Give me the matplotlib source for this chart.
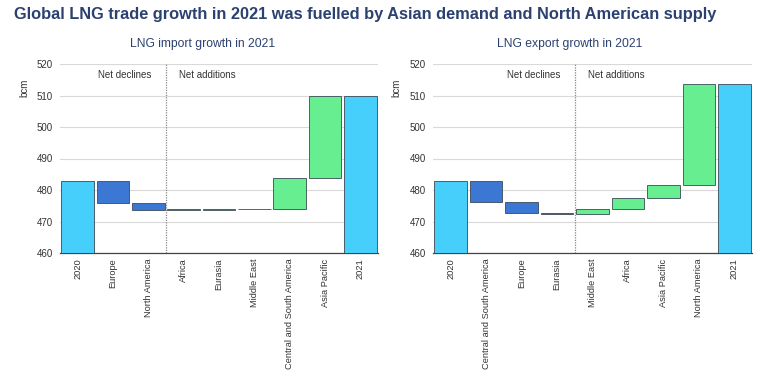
import matplotlib
matplotlib.use("Agg")
import matplotlib.pyplot as plt
import numpy as np

plt.rcParams["font.family"] = ["Liberation Sans", "DejaVu Sans"]

# import side
imp_cats = ["2020", "Europe", "North America", "Africa", "Eurasia", "Middle East",
            "Central and South America", "Asia Pacific", "2021"]
imp_start = 482.8
imp_deltas = [-6.9, -2.2, 0.1, 0.1, 0.2, 9.7, 26.1]
imp_end = 510.0

# export side
exp_cats = ["2020", "Central and South America", "Europe", "Eurasia", "Middle East",
            "Africa", "Asia Pacific", "North America", "2021"]
exp_start = 483.0
exp_deltas = [-6.7, -3.6, -0.2, 1.6, 3.4, 4.0, 32.2]
exp_end = 513.8

C_TOTAL = "#45CFFA"
C_DOWN = "#3C77D4"
C_UP = "#66EE90"
EDGE = "#3a4a55"
NAVY = "#2B4170"
TXT = "#333333"


def waterfall(ax, cats, start, deltas, end, n_decl):
    x = np.arange(len(cats))
    base = 460
    w = 0.92
    ax.bar(x[0], start - base, bottom=base, width=w, color=C_TOTAL, edgecolor=EDGE, linewidth=0.6, zorder=3)
    level = start
    for i, d in enumerate(deltas):
        col = C_DOWN if d < 0 else C_UP
        # tiny changes still get a visible sliver
        h = d if abs(d) > 0.15 else (0.15 if d >= 0 else -0.15)
        ax.bar(x[i + 1], h, bottom=level, width=w, color=col, edgecolor=EDGE, linewidth=0.6, zorder=3)
        level += d
    ax.bar(x[-1], end - base, bottom=base, width=w, color=C_TOTAL, edgecolor=EDGE, linewidth=0.6, zorder=3)

    ax.set_ylim(460, 520)
    ax.set_xlim(-0.5, len(cats) - 0.5)
    ax.set_yticks(np.arange(460, 521, 10))
    ax.yaxis.grid(True, color="#d9d9d9", linewidth=0.8, zorder=0)
    ax.set_axisbelow(True)
    ax.set_xticks(x)
    ax.set_xticklabels(cats, rotation=90, fontsize=6.7, color=TXT)
    ax.tick_params(axis="y", labelsize=7, colors=TXT, length=0, pad=5)
    ax.tick_params(axis="x", length=0, pad=4)
    for s in ["top", "right", "left"]:
        ax.spines[s].set_visible(False)
    ax.spines["bottom"].set_color("#444444")
    ax.spines["bottom"].set_linewidth(0.9)

    div = n_decl + 0.5
    ax.axvline(div, color="#888888", linewidth=0.9, linestyle=(0, (1, 1)), zorder=2)
    ax.text(div - 0.4, 518, "Net declines", ha="right", va="top", fontsize=7, color=TXT)
    ax.text(div + 0.38, 518, "Net additions", ha="left", va="top", fontsize=7, color=TXT)
    ax.set_ylabel("bcm", fontsize=7, color=TXT)
    ax.yaxis.set_label_coords(-31 / 318, 0.873)


fig = plt.figure(figsize=(7.73, 3.78), dpi=100)
ax1 = fig.add_axes([60 / 773, 125 / 378, 318 / 773, 189 / 378])
ax2 = fig.add_axes([433 / 773, 125 / 378, 319 / 773, 189 / 378])

waterfall(ax1, imp_cats, imp_start, imp_deltas, imp_end, 2)
waterfall(ax2, exp_cats, exp_start, exp_deltas, exp_end, 3)

fig.text(14 / 773, 1 - 14 / 378, "Global LNG trade growth in 2021 was fuelled by Asian demand and North American supply",
         ha="left", va="center", fontsize=11.8, fontweight="bold", color=NAVY)
fig.text(203 / 773, 1 - 44 / 378, "LNG import growth in 2021", ha="center", va="center", fontsize=8.7, color=NAVY)
fig.text(570 / 773, 1 - 44 / 378, "LNG export growth in 2021", ha="center", va="center", fontsize=8.7, color=NAVY)

fig.savefig("out.png", dpi=100, facecolor="white")
